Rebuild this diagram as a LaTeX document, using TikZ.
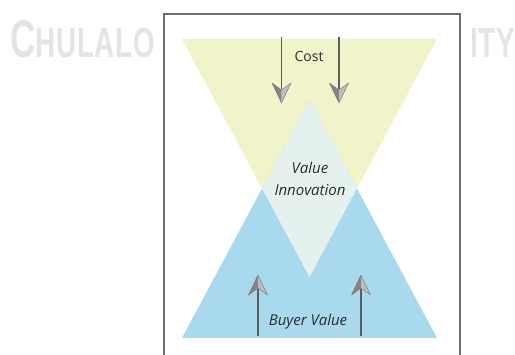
\documentclass[tikz,border=0pt]{standalone}
\usepackage{fontspec}
\usetikzlibrary{calc}
\setmainfont{Open Sans}
\newfontfamily\markfont[LetterSpace=3]{Liberation Sans}
\definecolor{costyellow}{HTML}{F1F3CB}
\definecolor{valueblue}{HTML}{A9D9EC}
\definecolor{overlap}{HTML}{E5F1EE}
\definecolor{frameline}{HTML}{6E6E6E}
\definecolor{shaft}{HTML}{5E5E5E}
\definecolor{markgray}{HTML}{E4E4E4}
\tikzset{
  label/.style={text=black!82, inner sep=0pt, align=center},
  shaftline/.style={draw=shaft, line width=1.8pt},
  headdark/.style={fill=black!48},
  headlight/.style={fill=black!26},
  headedge/.style={draw=black!55, line width=0.4pt, line join=round},
  watermark/.style={text=markgray, inner sep=0pt, font=\markfont\bfseries,
    xscale=0.66, transform shape},
}
% arrowhead with a shaded left half and a lighter right half;
% #1 = 1 for a head pointing down, -1 for a head pointing up
\newcommand{\twotonehead}[2]{%
  \begin{scope}[shift={(#2)}, yscale=#1]
    \fill[headdark] (0,0) -- (-9.5,-20) -- (0,-13) -- cycle;
    \fill[headlight] (0,0) -- (9.5,-20) -- (0,-13) -- cycle;
    \draw[headedge] (0,0) -- (-9.5,-20) -- (0,-13) -- (9.5,-20) -- cycle;
  \end{scope}}
\begin{document}
\begin{tikzpicture}[x=1pt,y=-1pt]
\useasboundingbox (0,0) rectangle (515,355);
\fill[white] (0,0) rectangle (515,355);

% faint institution name behind the panel
\node[watermark, anchor=base west] (wmleft) at (10,58)
  {\fontsize{53}{53}\selectfont C\fontsize{42}{42}\selectfont HULALO\kern16pt NGKORN};
\node[watermark, anchor=base east] (wmright) at (515,58)
  {\fontsize{42}{42}\selectfont UNIVERS\kern16pt ITY};

% panel
\fill[white] (164,14) rectangle (460,360);
\draw[frameline, line width=1.3pt] (164,362) -- (164,14) -- (460,14) -- (460,362);

% cost triangle (pointing down) and buyer-value triangle (pointing up)
\coordinate (ytl) at (182,39);
\coordinate (ytr) at (437,39);
\coordinate (yapex) at (309.5,277);
\coordinate (bbl) at (182,338);
\coordinate (bbr) at (437,338);
\coordinate (bapex) at (309.5,100);
\fill[costyellow] (ytl) -- (ytr) -- (yapex) -- cycle;
\fill[valueblue] (bbl) -- (bbr) -- (bapex) -- cycle;
\begin{scope}
  \clip (ytl) -- (ytr) -- (yapex) -- cycle;
  \fill[overlap] (bbl) -- (bbr) -- (bapex) -- cycle;
\end{scope}

% labels
\node[label, font=\fontsize{14}{16}\selectfont] (cost) at (309,57) {Cost};
\node[label, font=\fontsize{15}{22}\selectfont\itshape] (vi) at (310,179)
  {Value\\Innovation};
\node[label, font=\fontsize{15}{18}\selectfont\itshape] (buyer) at (308,322) {Buyer Value};

% cost arrows pointing down
\coordinate (c1s) at (281.5,37);
\coordinate (c1e) at (281.5,103);
\coordinate (c2s) at (339,37);
\coordinate (c2e) at (339,103);
\draw[shaftline] (c1s) -- ($(c1e)+(0,-14)$);
\draw[shaftline] (c2s) -- ($(c2e)+(0,-14)$);
\twotonehead{1}{c1e}
\twotonehead{1}{c2e}

% buyer-value arrows pointing up
\coordinate (b1s) at (258,336);
\coordinate (b1e) at (258,275);
\coordinate (b2s) at (361,336);
\coordinate (b2e) at (361,275);
\draw[shaftline] (b1s) -- ($(b1e)+(0,14)$);
\draw[shaftline] (b2s) -- ($(b2e)+(0,14)$);
\twotonehead{-1}{b1e}
\twotonehead{-1}{b2e}
\end{tikzpicture}
\end{document}
